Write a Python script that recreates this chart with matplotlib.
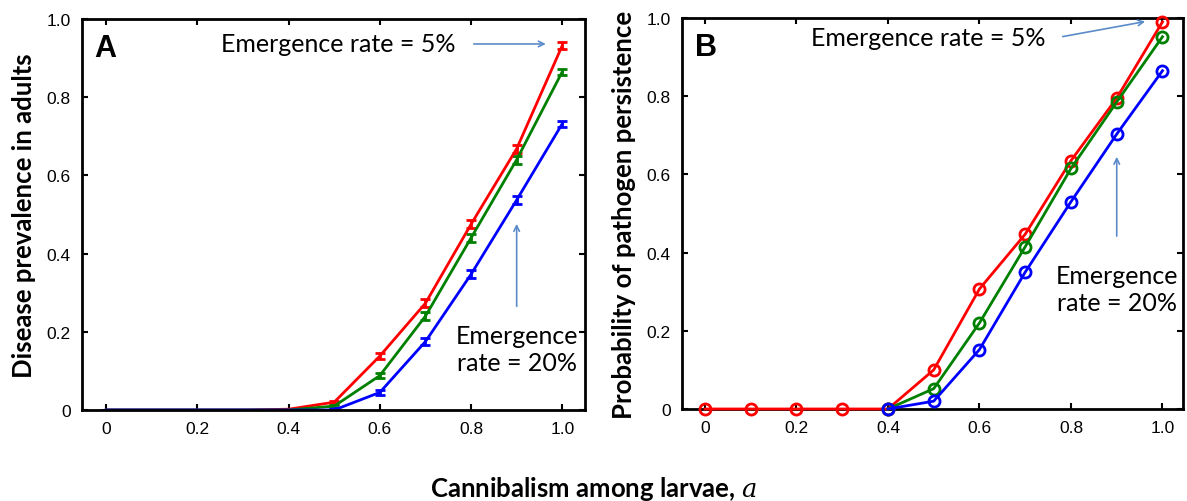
import numpy as np
import matplotlib
matplotlib.use("Agg")
import matplotlib.pyplot as plt

plt.rcParams['mathtext.fontset'] = 'dejavuserif'

# cannibalism levels
a = [0.0, 0.1, 0.2, 0.3, 0.4, 0.5, 0.6, 0.7, 0.8, 0.9, 1.0]

# panel A: disease prevalence in adults (red 5%, green mid, blue 20%)
prev_red = [0, 0, 0, 0, 0.002, 0.02, 0.138, 0.273, 0.475, 0.668, 0.932]
prev_green = [0, 0, 0, 0, 0, 0.01, 0.088, 0.24, 0.44, 0.64, 0.865]
prev_blue = [0, 0, 0, 0, 0, 0.0, 0.045, 0.175, 0.347, 0.537, 0.732]
prev_err = [0, 0, 0, 0, 0, 0.004, 0.007, 0.01, 0.01, 0.01, 0.008]

# panel B: probability of pathogen persistence
a_b = [0.4, 0.5, 0.6, 0.7, 0.8, 0.9, 1.0]
pers_red = [0, 0, 0, 0, 0, 0.1, 0.307, 0.447, 0.635, 0.795, 0.99]
pers_green = [0.0, 0.052, 0.22, 0.415, 0.615, 0.785, 0.952]
pers_blue = [0.0, 0.02, 0.152, 0.35, 0.53, 0.703, 0.865]

ticks = [0, 0.2, 0.4, 0.6, 0.8, 1.0]
ticklabels = ['0', '0.2', '0.4', '0.6', '0.8', '1.0']

fig = plt.figure(figsize=(11.87, 5.02), dpi=100)
axA = fig.add_axes([0.0691, 0.1813, 0.4238, 0.779])
axB = fig.add_axes([0.5746, 0.1833, 0.4221, 0.779])

arrow_c = '#5b8bc9'
lab_font = dict(family='Lato', fontweight='bold', fontsize=18.5)
ann_font = dict(family='Lato', fontsize=18)

for ax in (axA, axB):
    ax.set_ylim(0, 1.0)
    ax.set_xticks(ticks)
    ax.set_xticklabels(ticklabels)
    ax.set_yticks(ticks)
    ax.set_yticklabels(ticklabels)
    ax.tick_params(direction='in', top=True, right=True, length=4, width=1.5,
                   labelsize=12.5, pad=8)
    for lbl in ax.get_xticklabels() + ax.get_yticklabels():
        lbl.set_family('Liberation Sans')
    for s in ax.spines.values():
        s.set_linewidth(2)

axA.set_xlim(-0.053, 1.05)
axB.set_xlim(-0.05, 1.045)

# panel A
for y, c in [(prev_red, 'red'), (prev_green, 'green'), (prev_blue, 'blue')]:
    axA.errorbar(a, y, yerr=prev_err, color=c, lw=2, elinewidth=2,
                 capsize=3.5, capthick=2, zorder=2)
axA.set_ylabel('Disease prevalence in adults', labelpad=8, **lab_font)
axA.text(0.025, 0.965, 'A', transform=axA.transAxes, fontsize=22,
         fontweight='bold', family='Liberation Sans', va='top')
axA.text(0.508, 0.936, 'Emergence rate = 5%', ha='center', va='center', **ann_font)
axA.annotate('', xy=(0.97, 0.936), xytext=(0.80, 0.936),
             arrowprops=dict(arrowstyle='->', color=arrow_c, lw=1.2))
axA.text(0.901, 0.156, 'Emergence\nrate = 20%', ha='center', va='center',
         linespacing=1.2, **ann_font)
axA.annotate('', xy=(0.9, 0.483), xytext=(0.9, 0.258),
             arrowprops=dict(arrowstyle='->', color=arrow_c, lw=1.2))

# panel B
axB.plot(a, pers_red, color='red', lw=2, marker='o', ms=8, mfc='none',
         mew=2, clip_on=False, zorder=3)
axB.plot(a_b, pers_green, color='green', lw=2, marker='o', ms=8, mfc='none',
         mew=2, clip_on=False, zorder=3)
axB.plot(a_b, pers_blue, color='blue', lw=2, marker='o', ms=8, mfc='none',
         mew=2, clip_on=False, zorder=3)
axB.set_ylabel('Probability of pathogen persistence', labelpad=8, **lab_font)
axB.text(0.025, 0.965, 'B', transform=axB.transAxes, fontsize=22,
         fontweight='bold', family='Liberation Sans', va='top')
axB.text(0.488, 0.951, 'Emergence rate = 5%', ha='center', va='center', **ann_font)
axB.annotate('', xy=(0.968, 0.992), xytext=(0.776, 0.951),
             arrowprops=dict(arrowstyle='->', color=arrow_c, lw=1.2))
axB.text(0.901, 0.307, 'Emergence\nrate = 20%', ha='center', va='center',
         linespacing=1.2, **ann_font)
axB.annotate('', xy=(0.9, 0.652), xytext=(0.9, 0.435),
             arrowprops=dict(arrowstyle='->', color=arrow_c, lw=1.2))

fig.text(0.5, 0.025, r'Cannibalism among larvae, $\it{a}$', ha='center',
         va='center', **lab_font)

fig.savefig('out.png', dpi=100)
